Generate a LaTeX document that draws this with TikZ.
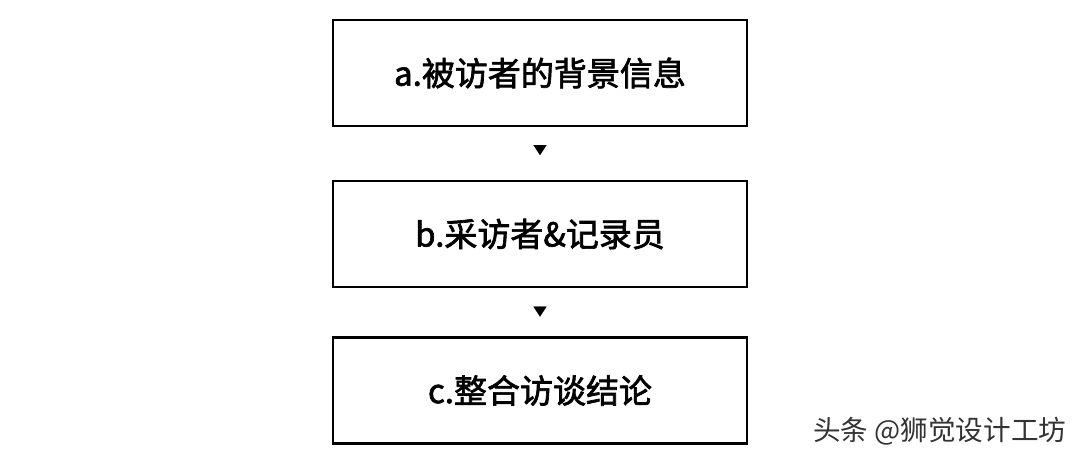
\documentclass[tikz,border=0pt]{standalone}
\usepackage{fontspec}
\setmainfont{Noto Sans CJK SC}
\newfontfamily\medfont{Noto Sans CJK SC}[FakeBold=2]
\usetikzlibrary{arrows.meta}
\tikzset{
  stagebox/.style={draw=black, line width=2.5pt, fill=white, minimum width=414pt, minimum height=106pt, inner sep=0pt, font=\medfont\fontsize{33}{36}\selectfont},
  flowtip/.style={-{Triangle[length=10pt,width=13pt]}, line width=0.1pt}
}
\begin{document}
\begin{tikzpicture}[x=1pt,y=-1pt]
\useasboundingbox[fill=white] (0,0) rectangle (1080,459);
\node[stagebox] (a) at (540,73) {a.被访者的背景信息};
\node[stagebox] (b) at (540,234) {b.采访者\&记录员};
\node[stagebox] (c) at (540,390.5) {c.整合访谈结论};
\draw[flowtip, shorten <=19pt, shorten >=24.6pt] (a.south) -- (b.north);
\draw[flowtip, shorten <=19.8pt, shorten >=19.6pt] (b.south) -- (c.north);
\node[anchor=west, inner sep=0pt, text=black!80, font=\fontsize{27.6}{30}\selectfont] (wm) at (813,431) {头条 @狮觉设计工坊};
\end{tikzpicture}
\end{document}
